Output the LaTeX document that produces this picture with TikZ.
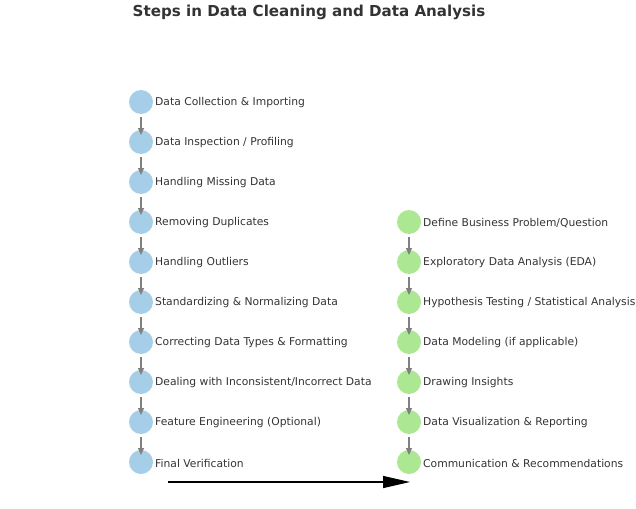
\documentclass[tikz,border=0pt]{standalone}
\usepackage{fontspec}
\setmainfont{DejaVu Sans}
\usetikzlibrary{arrows.meta}
\definecolor{cblue}{RGB}{166,206,232}
\definecolor{cgreen}{RGB}{172,232,145}
\definecolor{txt}{RGB}{51,51,51}
\begin{document}
\begin{tikzpicture}[x=1pt,y=-1pt,
  stepc/.style={circle,minimum size=24pt,inner sep=0pt,draw=none},
  bluec/.style={stepc,fill=cblue},
  greenc/.style={stepc,fill=cgreen},
  lbl/.style={anchor=west,inner sep=0pt,text=txt,font=\fontsize{10.75}{13}\selectfont},
  flow/.style={draw=gray,line width=1.2pt,-{Triangle[length=7pt,width=6pt]},shorten <=15pt,shorten >=7pt}
]
\useasboundingbox (0,0) rectangle (636,508);
\node[font=\bfseries\fontsize{15.1}{18}\selectfont,text=txt] (title) at (309,12) {Steps in Data Cleaning and Data Analysis};
% left column
\foreach \i/\t in {0/{Data Collection \& Importing},1/{Data Inspection / Profiling},2/{Handling Missing Data},3/{Removing Duplicates},4/{Handling Outliers},5/{Standardizing \& Normalizing Data},6/{Correcting Data Types \& Formatting},7/{Dealing with Inconsistent/Incorrect Data},8/{Feature Engineering (Optional)},9/{Final Verification}}{
  \node[bluec] (L\i) at (141,102+40*\i) {};
  \node[lbl] (LT\i) at (155,103+40*\i) {\t};
}
\foreach \i/\t in {0/{Define Business Problem/Question},1/{Exploratory Data Analysis (EDA)},2/{Hypothesis Testing / Statistical Analysis},3/{Data Modeling (if applicable)},4/{Drawing Insights},5/{Data Visualization \& Reporting},6/{Communication \& Recommendations}}{
  \node[greenc] (R\i) at (409,222+40*\i) {};
  \node[lbl] (RT\i) at (423,223+40*\i) {\t};
}
\foreach \i [evaluate=\i as \j using int(\i+1)] in {0,...,8}{
  \draw[flow] (L\i.center) -- (L\j.center);
}
\foreach \i [evaluate=\i as \j using int(\i+1)] in {0,...,5}{
  \draw[flow] (R\i.center) -- (R\j.center);
}
\coordinate (bs) at (168,482);
\coordinate (be) at (410,482);
\draw[black,line width=1.3pt,-{Triangle[length=27pt,width=12pt]}] (bs) -- (be);
\end{tikzpicture}
\end{document}
